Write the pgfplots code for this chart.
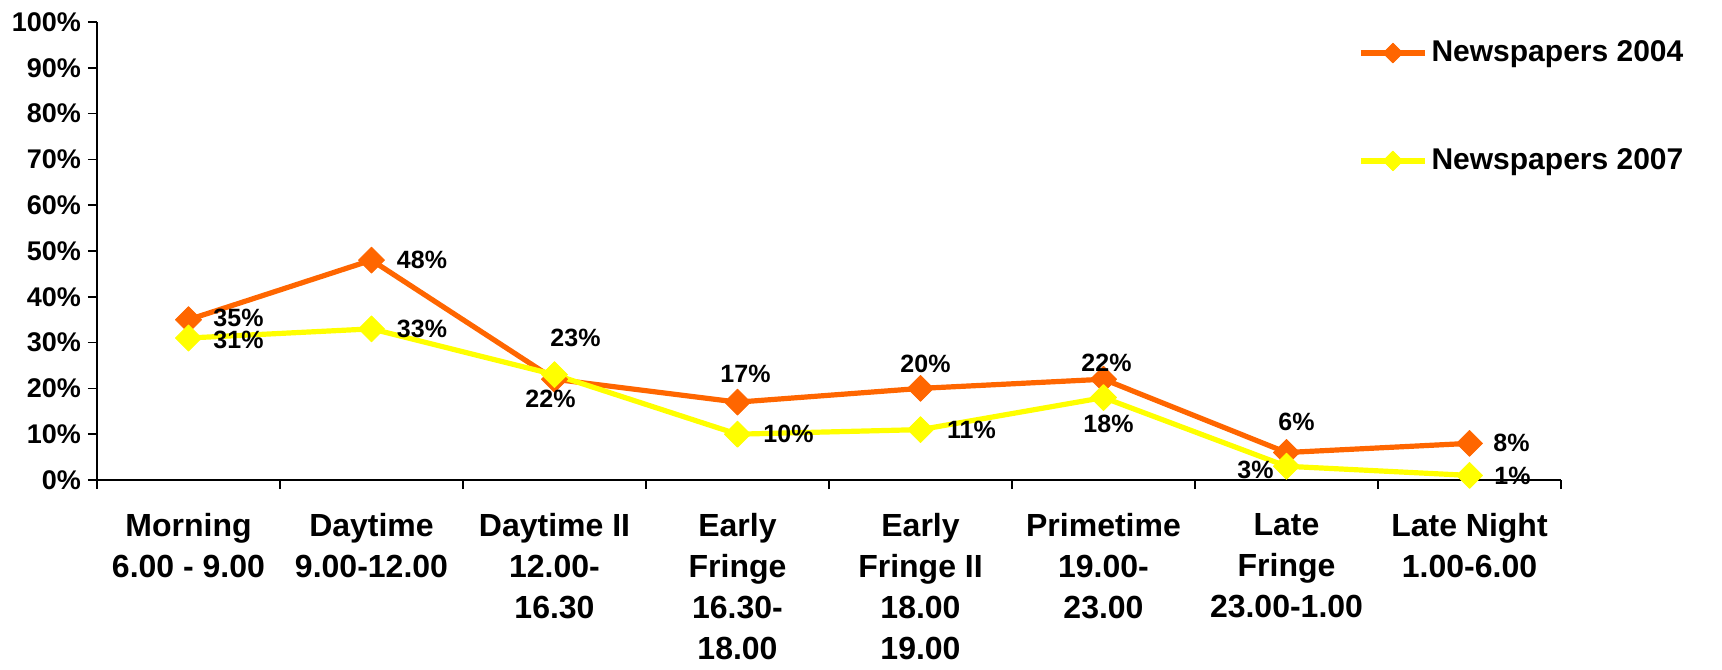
\documentclass[border=0pt]{standalone}
\usepackage{pgfplots}
\usepackage{pgfplotstable}
\pgfplotsset{compat=1.18}
\usepackage{fontspec}
\setmainfont{Liberation Sans}
\definecolor{np04}{HTML}{FF6600}
\definecolor{np07}{HTML}{FFFF00}

% x = slot, y = share in %, dx/dy = offset (pt) of the value label centre
\pgfplotstableread{
x y dx dy
0 35 25 1
1 48 25.25 0
2 22 -2 -10
3 17 4 14
4 20 2.5 12.5
5 22 1.5 8
6 6 5 15.5
7 8 21 0
}\tabA
\pgfplotstableread{
x y dx dy
0 31 25 -1
1 33 25.25 0
2 23 10.5 18.5
3 10 25.5 0
4 11 25.5 0
5 18 2.5 -13
6 3 -15.5 -2
7 1 21.5 0
}\tabB

\begin{document}
\begin{tikzpicture}
\path[use as bounding box] (-48.5pt,-94.5pt) rectangle (812.5pt,240pt);
\begin{axis}[
  at={(0pt,0pt)}, anchor=south west,
  scale only axis, width=732pt, height=229pt,
  xmin=-0.5, xmax=7.5, ymin=0, ymax=100,
  axis lines=left, axis line style={-, line width=0.75pt},
  tick align=outside,
  xtick={-0.5,0.5,...,7.5}, xticklabels={},
  extra x ticks={0,...,7},
  extra x tick labels={{Morning\\6.00 - 9.00},{Daytime\\9.00-12.00},{Daytime II\\12.00-\\16.30},{Early\\Fringe\\16.30-\\18.00},{Early\\Fringe II\\18.00\\19.00},{Primetime\\19.00-\\23.00},{Late\\Fringe\\23.00-1.00},{Late Night\\1.00-6.00}},
  extra x tick style={major tick length=0pt,
    xticklabel style={align=center, font=\bfseries\fontsize{16}{20.5}\selectfont, yshift=-13pt}},
  ytick={0,10,...,100},
  yticklabels={0\%,10\%,20\%,30\%,40\%,50\%,60\%,70\%,80\%,90\%,100\%},
  major tick length=4.5pt,
  every tick/.style={black, line width=0.75pt},
  yticklabel style={font=\bfseries\fontsize{13.5}{15}\selectfont},
  /pgf/number format/assume math mode=true,
  clip=false,
  legend cell align=left,
  legend style={at={(0.8613,0.968)}, anchor=north west, draw=none, fill=none,
    inner sep=0pt, row sep=38pt, font=\bfseries\fontsize{15}{18}\selectfont,
    nodes={inner sep=2pt}},
  legend image code/.code={\draw[#1, mark size=3.5pt, mark repeat=2, mark phase=2]
    plot coordinates {(0pt,0pt) (16pt,0pt) (32pt,0pt)};},
  nodes near coords={\pgfmathprintnumber{\pgfplotspointmeta}\%},
  visualization depends on={\thisrow{dx} \as \ldx},
  visualization depends on={\thisrow{dy} \as \ldy},
  every node near coord/.append style={black, inner sep=0pt,
    font=\bfseries\fontsize{12.5}{15}\selectfont,
    anchor=center, xshift=\ldx pt, yshift=\ldy pt},
]
\addplot[np04, line width=2.6pt, line join=round, mark=square*, mark size=4.6pt,
  mark options={rotate=45, line width=0.4pt}] table[x=x, y=y] {\tabA};
\addlegendentry{Newspapers 2004}
\addplot[np07, line width=2.6pt, line join=round, mark=square*, mark size=4.6pt,
  mark options={rotate=45, line width=0.4pt}] table[x=x, y=y] {\tabB};
\addlegendentry{Newspapers 2007}
\end{axis}
\end{tikzpicture}
\end{document}
